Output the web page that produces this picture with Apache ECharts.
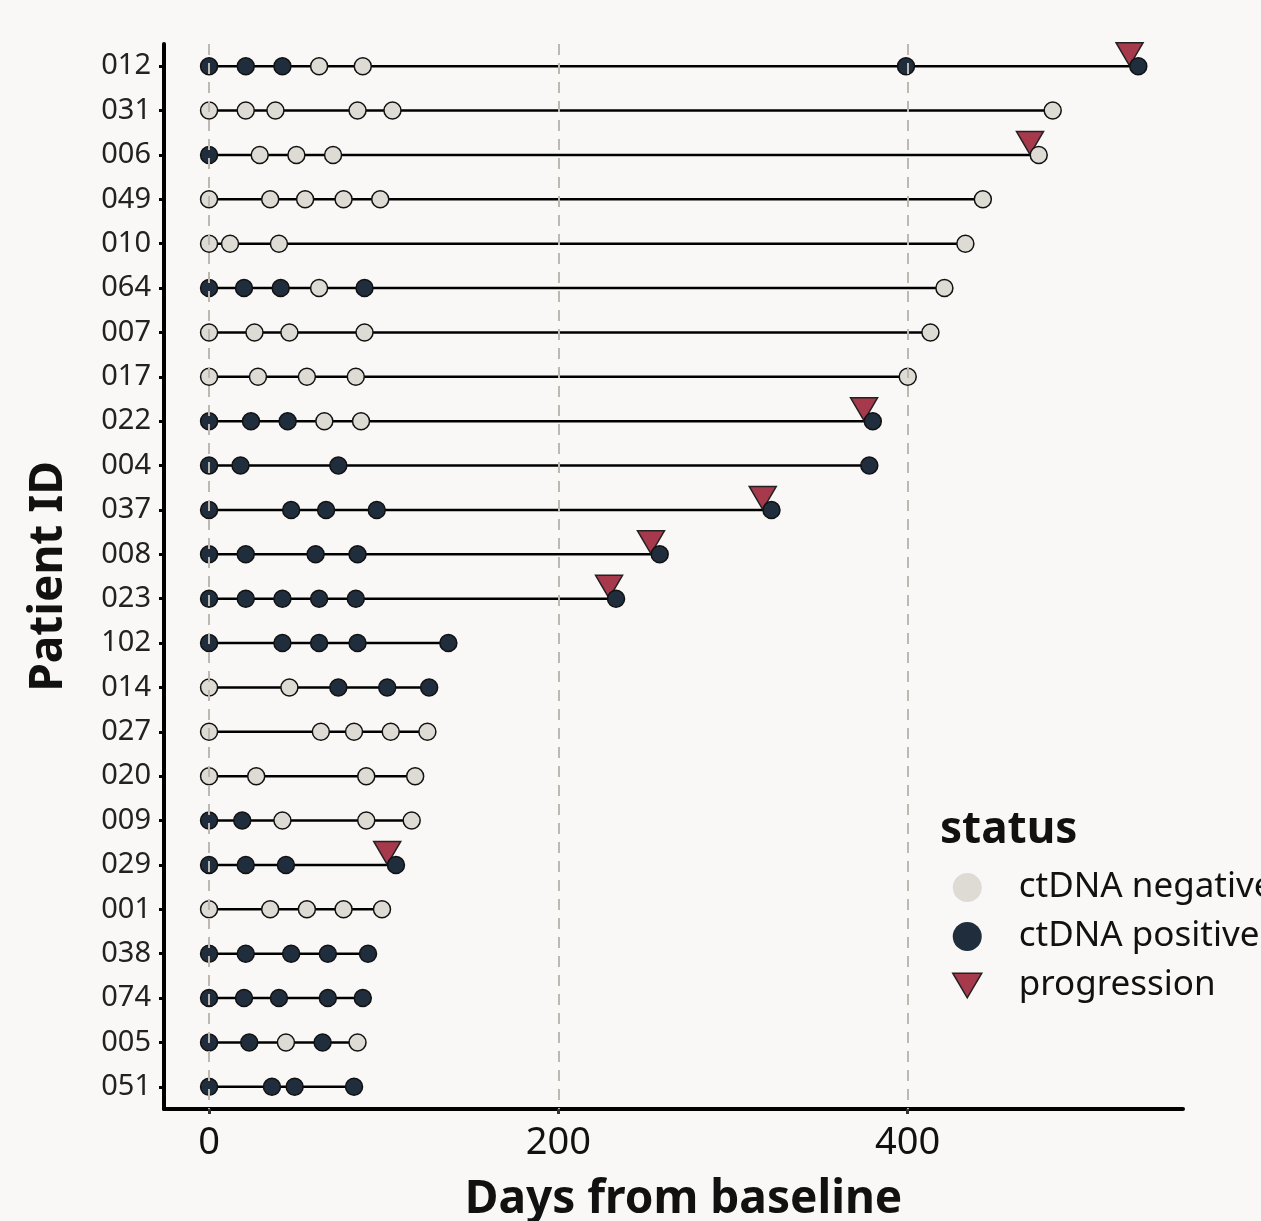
<!DOCTYPE html>
<html>
<head>
<meta charset="utf-8">
<script src="https://cdn.jsdelivr.net/npm/echarts@6/dist/echarts.min.js"></script>
<style>
  html, body { margin: 0; padding: 0; background: #f9f8f6; }
  #chart { width: 1261px; height: 1221px; }
</style>
</head>
<body>
<div id="chart"></div>
<script>
// Patients, top to bottom
const patientIds = ['012', '031', '006', '049', '010', '064', '007', '017', '022', '004', '037', '008',
  '023', '102', '014', '027', '020', '009', '029', '001', '038', '074', '005', '051'];

// Visit days per patient (last one = end of follow-up)
const visitDays = [
  [0, 21, 42, 63, 88, 399, 532],
  [0, 21, 38, 85, 105, 483],
  [0, 29, 50, 71, 475],
  [0, 35, 55, 77, 98, 443],
  [0, 12, 40, 433],
  [0, 20, 41, 63, 89, 421],
  [0, 26, 46, 89, 413],
  [0, 28, 56, 84, 400],
  [0, 24, 45, 66, 87, 380],
  [0, 18, 74, 378],
  [0, 47, 67, 96, 322],
  [0, 21, 61, 85, 258],
  [0, 21, 42, 63, 84, 233],
  [0, 42, 63, 85, 137],
  [0, 46, 74, 102, 126],
  [0, 64, 83, 104, 125],
  [0, 27, 90, 118],
  [0, 19, 42, 90, 116],
  [0, 21, 44, 107],
  [0, 35, 56, 77, 99],
  [0, 21, 47, 68, 91],
  [0, 20, 40, 68, 88],
  [0, 23, 44, 65, 85],
  [0, 36, 49, 83]
];

// ctDNA status at each visit: P = positive, N = negative
const visitStatus = [
  'PPPNNPP', 'NNNNNN', 'PNNNN', 'NNNNNN', 'NNNN', 'PPPNPN', 'NNNNN', 'NNNNN',
  'PPPNNP', 'PPPP', 'PPPPP', 'PPPPP', 'PPPPPP', 'PPPPP', 'NNPPP', 'NNNNN',
  'NNNN', 'PPNNN', 'PPPP', 'NNNNN', 'PPPPP', 'PPPPP', 'PPNPN', 'PPPP'
];

// Day of progression (null = none)
const progressionDays = [527, null, 470, null, null, null, null, null, 375, null, 317, 253,
  229, null, null, null, null, null, 102, null, null, null, null, null];

const xTicks = [0, 200, 400];

const FONT = '"Noto Sans", "Open Sans", sans-serif';
const NEG_COLOR = '#dedbd4';
const POS_COLOR = '#1f2d3c';
const PROG_COLOR = '#a63a4c';
const TRI = 'path://M0,0 L20,0 L10,17 Z';

const negData = [], posData = [], progData = [], spanData = [];
patientIds.forEach((id, i) => {
  visitDays[i].forEach((d, j) => {
    (visitStatus[i][j] === 'P' ? posData : negData).push([d, id]);
  });
  spanData.push([visitDays[i][visitDays[i].length - 1], i]);
  if (progressionDays[i] != null) progData.push([progressionDays[i], id]);
});

const chart = echarts.init(document.getElementById('chart'));

const option = {
  backgroundColor: '#f9f8f6',
  animation: false,
  textStyle: { fontFamily: FONT },
  title: {
    text: 'status',
    left: 940, top: 808, padding: 0,
    textStyle: { fontFamily: FONT, fontSize: 44, fontWeight: 'bold', color: '#111' }
  },
  legend: {
    orient: 'vertical',
    left: 947, top: 865,
    itemWidth: 29, itemHeight: 29, itemGap: 14,
    textStyle: { fontFamily: FONT, fontSize: 35, color: '#111', padding: [0, 0, 0, 32] },
    data: [
      { name: 'ctDNA negative', icon: 'circle', itemStyle: { color: NEG_COLOR, borderWidth: 0 } },
      { name: 'ctDNA positive', icon: 'circle', itemStyle: { color: POS_COLOR, borderWidth: 0 } },
      { name: 'progression', icon: TRI, itemStyle: { color: PROG_COLOR, borderColor: '#222', borderWidth: 1.5 } }
    ]
  },
  grid: { left: 164, right: 78, top: 44, bottom: 112, outerBoundsMode: 'none' },
  xAxis: {
    type: 'value',
    min: -25.8, max: 557.6,
    name: 'Days from baseline',
    nameLocation: 'middle',
    nameGap: 68,
    nameTextStyle: { fontFamily: FONT, fontSize: 46, fontWeight: 'bold', color: '#111', padding: [0, 0, 0, 20] },
    axisLine: { show: true, onZero: false, lineStyle: { color: '#000', width: 4 } },
    axisTick: { show: true, length: 5, lineStyle: { color: '#333', width: 3 }, customValues: xTicks },
    axisLabel: { fontFamily: FONT, fontSize: 38, color: '#111', margin: 15, customValues: xTicks },
    splitLine: { show: false }
  },
  yAxis: {
    type: 'category',
    inverse: true,
    data: patientIds,
    name: 'Patient ID',
    nameLocation: 'middle',
    nameGap: 92,
    nameTextStyle: { fontFamily: FONT, fontSize: 46, fontWeight: 'bold', color: '#111' },
    axisLine: { show: true, onZero: false, lineStyle: { color: '#000', width: 4 } },
    axisTick: { show: true, alignWithLabel: true, length: 5, lineStyle: { color: '#000', width: 3 } },
    axisLabel: { fontFamily: FONT, fontSize: 29, color: '#222', margin: 13 },
    splitLine: { show: false }
  },
  series: [
    {
      type: 'custom',
      name: 'span',
      z: 1,
      silent: true,
      data: spanData,
      renderItem: function (params, api) {
        const a = api.coord([0, api.value(1)]);
        const b = api.coord([api.value(0), api.value(1)]);
        return {
          type: 'line',
          shape: { x1: a[0], y1: a[1], x2: b[0], y2: b[1] },
          style: { stroke: '#000', lineWidth: 2.5 }
        };
      },
      markLine: {
        silent: true,
        symbol: 'none',
        label: { show: false },
        lineStyle: { color: '#bdb8b2', width: 2, type: [11, 8] },
        data: xTicks.map(v => ({ xAxis: v }))
      }
    },
    {
      type: 'scatter',
      name: 'progression',
      z: 3,
      symbol: TRI,
      symbolSize: [27, 23],
      symbolOffset: [0, -12],
      itemStyle: { color: PROG_COLOR, borderColor: '#222', borderWidth: 1.5, opacity: 1 },
      data: progData
    },
    {
      type: 'scatter',
      name: 'ctDNA negative',
      z: 4,
      symbol: 'circle',
      symbolSize: 17,
      itemStyle: { color: NEG_COLOR, borderColor: '#111', borderWidth: 1.5, opacity: 1 },
      data: negData
    },
    {
      type: 'scatter',
      name: 'ctDNA positive',
      z: 4,
      symbol: 'circle',
      symbolSize: 17,
      itemStyle: { color: POS_COLOR, borderColor: '#111', borderWidth: 1.5, opacity: 1 },
      data: posData
    }
  ]
};

chart.setOption(option);
</script>
</body>
</html>
